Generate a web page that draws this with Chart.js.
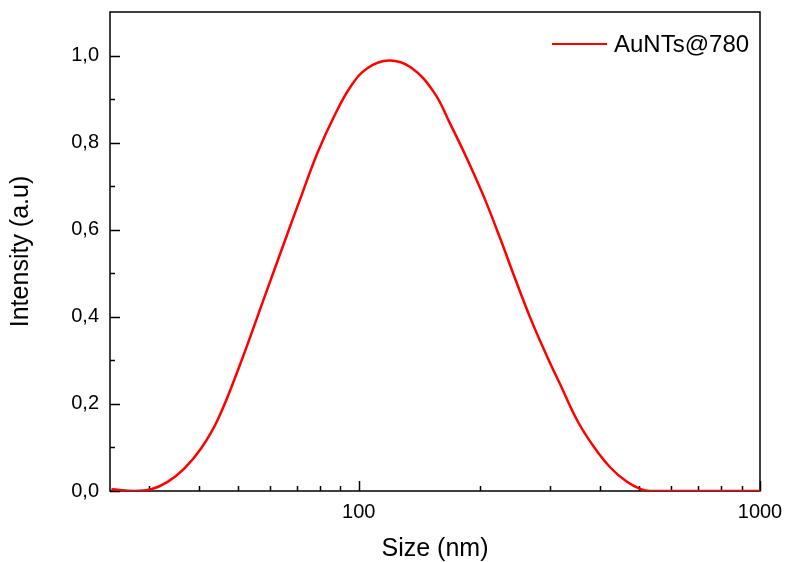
<!DOCTYPE html>
<html>
<head>
<meta charset="utf-8">
<script src="https://cdn.jsdelivr.net/npm/chart.js@4.4.1/dist/chart.umd.min.js"></script>
<style>
  html, body { margin: 0; padding: 0; background: #fff; }
  #wrap { width: 785px; height: 562px; }
</style>
</head>
<body>
<div id="wrap"><canvas id="chart" width="785" height="562"></canvas></div>
<script>
// DLS size distribution
const sizes = [24.2, 27.6, 30.4, 33.4, 36.8, 40.5, 44.5, 50.4, 57.9, 66.5, 71.3, 78.9, 86.8, 95.5,
  105.1, 119.0, 134.7, 153.9, 169.3, 186.4, 205.0, 225.6, 243.4, 267.8, 294.7, 318.1, 349.9,
  384.9, 423.6, 466.0, 502.9, 532.5, 600, 700, 800, 900, 1000]
const intensity = [0.004, 0.0, 0.004, 0.021, 0.052, 0.098, 0.163, 0.286, 0.439, 0.592, 0.668, 0.776, 0.860, 0.929,
  0.971, 0.9885, 0.973, 0.916, 0.842, 0.762, 0.676, 0.578, 0.496, 0.397, 0.309, 0.244, 0.163,
  0.102, 0.054, 0.021, 0.005, 0.0, 0, 0, 0, 0, 0]

const xTicks = [100, 1000]
const xMinorTicks = [30, 40, 50, 60, 70, 80, 90, 200, 300, 400, 500, 600, 700, 800, 900]
const yTicks = [0, 0.2, 0.4, 0.6, 0.8, 1.0]
const yMinorTicks = [0.1, 0.3, 0.5, 0.7, 0.9]

const FONT = '"Liberation Sans", Arial, sans-serif'

// box around the plot with inward tick marks, drawn under the curve
const frame = {
  id: 'frame',
  beforeDatasetsDraw (chart) {
    const { ctx, chartArea: a, scales: { x, y } } = chart
    ctx.save()
    ctx.strokeStyle = '#000'
    ctx.lineWidth = 1.5
    ctx.strokeRect(a.left, a.top, a.right - a.left, a.bottom - a.top)
    ctx.beginPath()
    const tick = (v, len, axis) => {
      if (axis === 'x') {
        const px = Math.round(x.getPixelForValue(v)) + 0.5
        ctx.moveTo(px, a.bottom)
        ctx.lineTo(px, a.bottom - len)
      } else {
        const py = Math.round(y.getPixelForValue(v)) + 0.5
        ctx.moveTo(a.left, py)
        ctx.lineTo(a.left + len, py)
      }
    }
    xTicks.forEach(v => tick(v, 10, 'x'))
    xMinorTicks.forEach(v => tick(v, 5, 'x'))
    yTicks.forEach(v => tick(v, 10, 'y'))
    yMinorTicks.forEach(v => tick(v, 5, 'y'))
    ctx.stroke()
    ctx.restore()
  },
  afterDraw (chart) {
    // legend entry, top right inside the box
    const { ctx } = chart
    const ds = chart.data.datasets[0]
    ctx.save()
    ctx.strokeStyle = ds.borderColor
    ctx.lineWidth = 2
    ctx.beginPath()
    ctx.moveTo(552, 44)
    ctx.lineTo(607, 44)
    ctx.stroke()
    ctx.fillStyle = '#000'
    ctx.font = '24px ' + FONT
    ctx.textBaseline = 'alphabetic'
    ctx.fillText(ds.label, 614, 52)
    ctx.restore()
  }
}

new Chart(document.getElementById('chart'), {
  type: 'line',
  data: {
    datasets: [{
      label: 'AuNTs@780',
      data: sizes.map((s, i) => ({ x: s, y: intensity[i] })),
      borderColor: '#ff0000',
      borderWidth: 2.5,
      pointRadius: 0,
      fill: false,
      tension: 0.4
    }]
  },
  options: {
    responsive: false,
    animation: false,
    layout: { padding: { left: 0, right: 25, top: 12, bottom: 0 } },
    plugins: {
      legend: { display: false },
      tooltip: { enabled: false }
    },
    scales: {
      x: {
        type: 'logarithmic',
        min: 24,
        max: 1000,
        afterBuildTicks: (scale) => { scale.ticks = xTicks.map(v => ({ value: v })) },
        afterFit: (scale) => {
          scale.height = 71
          scale.paddingLeft = 0
          scale.paddingRight = 0
        },
        grid: { display: false, drawTicks: false },
        border: { display: false },
        ticks: {
          color: '#000',
          font: { family: FONT, size: 20 },
          padding: 9,
          maxRotation: 0,
          autoSkip: false,
          callback: (v) => String(v)
        },
        title: {
          display: true,
          text: 'Size (nm)',
          color: '#000',
          font: { family: FONT, size: 25, lineHeight: 1 },
          padding: 0
        }
      },
      y: {
        min: 0,
        max: 1.1,
        afterBuildTicks: (scale) => { scale.ticks = yTicks.map(v => ({ value: v })) },
        afterFit: (scale) => {
          scale.width = 110
          scale.paddingTop = 0
          scale.paddingBottom = 0
        },
        grid: { display: false, drawTicks: false },
        border: { display: false },
        ticks: {
          color: '#000',
          font: { family: FONT, size: 20 },
          padding: 11,
          callback: (v) => v.toFixed(1).replace('.', ',')
        },
        title: {
          display: true,
          text: 'Intensity (a.u)',
          color: '#000',
          font: { family: FONT, size: 25, lineHeight: 1 },
          padding: { top: 9, bottom: 0 }
        }
      }
    }
  },
  plugins: [frame]
})
</script>
</body>
</html>
